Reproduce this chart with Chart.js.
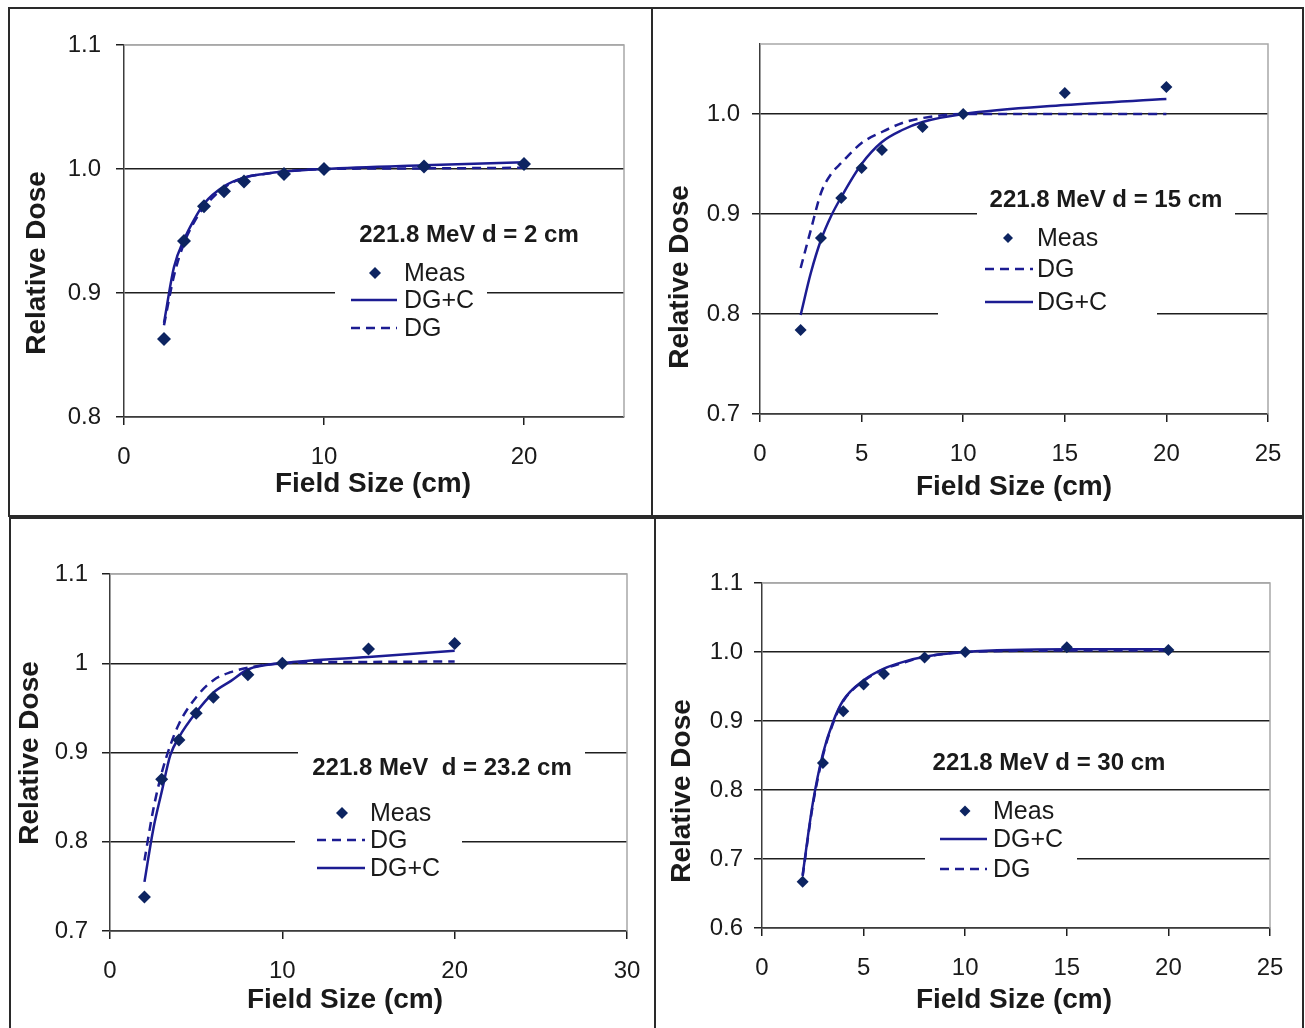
<!DOCTYPE html>
<html>
<head>
<meta charset="utf-8">
<script src="https://cdn.jsdelivr.net/npm/chart.js@4.4.1/dist/chart.umd.min.js"></script>
<style>
  body { margin: 0; background: #fff; overflow: hidden; }
  canvas { position: absolute; }
  .frame { position: absolute; border: 2px solid #2a2a2a; box-sizing: border-box; }
</style>
</head>
<body>
<script>
// field sizes (cm): measured points and calculated curve samples
const measSizes = [2, 3, 4, 5, 6, 8, 10, 15, 20];
const calcSizes = [2, 2.5, 3, 3.5, 4, 5, 6, 7, 8, 10, 15, 20];

// relative dose, 221.8 MeV, d = 2 cm
const meas2 = [0.863, 0.942, 0.970, 0.982, 0.990, 0.996, 1.000, 1.002, 1.004];
const dgc2  = [0.876, 0.921, 0.943, 0.959, 0.972, 0.986, 0.993, 0.996, 0.998, 1.000, 1.003, 1.0055];
const dg2   = [0.874, 0.914, 0.940, 0.957, 0.969, 0.985, 0.993, 0.996, 0.998, 1.000, 1.0005, 1.001];

// d = 15 cm
const meas15 = [0.784, 0.876, 0.916, 0.946, 0.964, 0.987, 1.000, 1.021, 1.027];
const dgc15  = [0.799, 0.841, 0.874, 0.898, 0.917, 0.950, 0.972, 0.984, 0.992, 1.000, 1.009, 1.015];
const dg15   = [0.846, 0.884, 0.921, 0.940, 0.951, 0.971, 0.982, 0.991, 0.996, 1.000, 1.000, 1.000];

// d = 23.2 cm
const meas232 = [0.738, 0.870, 0.914, 0.944, 0.962, 0.987, 1.000, 1.016, 1.022];
const dgc232  = [0.755, 0.813, 0.856, 0.897, 0.917, 0.945, 0.967, 0.980, 0.993, 1.000, 1.007, 1.014];
const dg232   = [0.779, 0.835, 0.877, 0.908, 0.932, 0.962, 0.981, 0.990, 0.995, 1.000, 1.0015, 1.002];

// d = 30 cm
const meas30 = [0.667, 0.839, 0.914, 0.953, 0.968, 0.992, 1.000, 1.007, 1.003];
const dgc30  = [0.677, 0.781, 0.853, 0.899, 0.930, 0.959, 0.976, 0.986, 0.993, 1.000, 1.004, 1.004];
const dg30   = [0.675, 0.778, 0.850, 0.897, 0.929, 0.958, 0.975, 0.985, 0.993, 1.000, 1.002, 1.002];

const captions = ['221.8 MeV d = 2 cm', '221.8 MeV d = 15 cm', '221.8 MeV  d = 23.2 cm', '221.8 MeV d = 30 cm'];
const seriesNames = { meas: 'Meas', dgc: 'DG+C', dg: 'DG' };
const xTitle = 'Field Size (cm)';
const yTitle = 'Relative Dose';

const FONT = '"Liberation Sans", Arial, sans-serif';
const INK = '#1a1a1a';
const LINE = '#1c1c92';
const DOT = '#0d2461';
const GRID = '#1e1e1e';
const AXIS = '#3c3c3c';
const EDGE = '#a8a8a8';

const fixed1 = v => v.toFixed(1);
const general = v => String(Math.round(v * 10) / 10);

// page layout of each panel: outer frame, plot area, legend placement
const panels = [
  {
    frame: [9, 8, 652, 516], area: [124, 45, 624, 417],
    xMax: 25, xStep: 10, yMin: 0.8, yMax: 1.1, fmt: fixed1, yPad: 15,
    meas: meas2, dgc: dgc2, dg: dg2, caption: captions[0], markR: 7,
    cap: [469, 235], capBox: [347, 219, 591, 251],
    legBox: [335, 256, 487, 345], order: ['meas', 'dgc', 'dg'], rows: [273, 300, 328],
    sample: [351, 397], markX: 375, textX: 404, legR: 6,
    yT: [37, 263], xT: [373, 484]
  },
  {
    frame: [652, 8, 1303, 516], area: [760, 44, 1268, 414],
    xMax: 25, xStep: 5, yMin: 0.7, yMax: 1.07, fmt: fixed1, yPad: 12,
    meas: meas15, dgc: dgc15, dg: dg15, caption: captions[1], markR: 6,
    cap: [1106, 200], capBox: [977, 182, 1235, 218],
    legBox: [938, 222, 1157, 320], order: ['meas', 'dg', 'dgc'], rows: [238, 269, 302],
    sample: [985, 1033], markX: 1008, textX: 1037, legR: 5,
    yT: [680, 277], xT: [1014, 487]
  },
  {
    frame: [10, 518, 655, 1034], area: [110, 574, 627, 931],
    xMax: 30, xStep: 10, yMin: 0.7, yMax: 1.1, fmt: general, yPad: 14,
    meas: meas232, dgc: dgc232, dg: dg232, caption: captions[2], markR: 6.5,
    cap: [442, 768], capBox: [298, 750, 585, 786],
    legBox: [295, 796, 462, 885], order: ['meas', 'dg', 'dgc'], rows: [813, 840, 868],
    sample: [317, 365], markX: 342, textX: 370, legR: 6,
    yT: [30, 753], xT: [345, 1000]
  },
  {
    frame: [655, 518, 1303, 1034], area: [762, 583, 1270, 928],
    xMax: 25, xStep: 5, yMin: 0.6, yMax: 1.1, fmt: fixed1, yPad: 11,
    meas: meas30, dgc: dgc30, dg: dg30, caption: captions[3], markR: 6,
    cap: [1049, 763], capBox: [919, 745, 1179, 781],
    legBox: [925, 795, 1077, 886], order: ['meas', 'dgc', 'dg'], rows: [811, 839, 869],
    sample: [940, 987], markX: 965, textX: 993, legR: 5.5,
    yT: [682, 791], xT: [1014, 1000]
  }
];

const toXY = (xs, ys) => xs.map((x, i) => ({ x: x, y: ys[i] }));

function diamond(ctx, x, y, r) {
  ctx.beginPath();
  ctx.moveTo(x, y - r);
  ctx.lineTo(x + r, y);
  ctx.lineTo(x, y + r);
  ctx.lineTo(x - r, y);
  ctx.closePath();
  ctx.fill();
}

// plot frame, caption and legend boxes painted over the grid, then axis titles
const panelText = {
  id: 'panelText',
  beforeDatasetsDraw(chart, args, p) {
    const ctx = chart.ctx;
    const ox = p.frame[0], oy = p.frame[1];
    const a = chart.chartArea;
    ctx.save();
    ctx.strokeStyle = EDGE;
    ctx.lineWidth = 1.5;
    ctx.beginPath();
    ctx.moveTo(a.left, a.top);
    ctx.lineTo(a.right, a.top);
    ctx.lineTo(a.right, a.bottom);
    ctx.stroke();

    ctx.fillStyle = '#fff';
    [p.capBox, p.legBox].forEach(b => ctx.fillRect(b[0] - ox, b[1] - oy, b[2] - b[0], b[3] - b[1]));

    ctx.fillStyle = INK;
    ctx.textBaseline = 'middle';
    ctx.textAlign = 'center';
    ctx.font = 'bold 24px ' + FONT;
    ctx.fillText(p.caption, p.cap[0] - ox, p.cap[1] - oy);

    ctx.textAlign = 'left';
    ctx.font = '25px ' + FONT;
    p.order.forEach((key, i) => {
      const ds = chart.data.datasets.find(d => d.key === key);
      const y = p.rows[i] - oy;
      if (key === 'meas') {
        ctx.fillStyle = ds.backgroundColor;
        diamond(ctx, p.markX - ox, y, p.legR);
      } else {
        ctx.strokeStyle = ds.borderColor;
        ctx.lineWidth = ds.borderWidth;
        ctx.setLineDash(ds.borderDash || []);
        ctx.beginPath();
        ctx.moveTo(p.sample[0] - ox, y);
        ctx.lineTo(p.sample[1] - ox, y);
        ctx.stroke();
        ctx.setLineDash([]);
      }
      ctx.fillStyle = INK;
      ctx.fillText(ds.label, p.textX - ox, y + 1);
    });
    ctx.restore();
  },
  afterDraw(chart, args, p) {
    const ctx = chart.ctx;
    const ox = p.frame[0], oy = p.frame[1];
    ctx.save();
    ctx.fillStyle = INK;
    ctx.font = 'bold 28px ' + FONT;
    ctx.textAlign = 'center';
    ctx.textBaseline = 'middle';
    ctx.fillText(xTitle, p.xT[0] - ox, p.xT[1] - oy);
    ctx.translate(p.yT[0] - ox, p.yT[1] - oy);
    ctx.rotate(-Math.PI / 2);
    ctx.fillText(yTitle, 0, 0);
    ctx.restore();
  }
};

panels.forEach(p => {
  const [fl, ft, fr, fb] = p.frame;
  const [al, at, ar, ab] = p.area;
  const w = fr - fl, h = fb - ft;

  const canvas = document.createElement('canvas');
  canvas.width = w;
  canvas.height = h;
  canvas.style.left = fl + 'px';
  canvas.style.top = ft + 'px';
  canvas.style.width = w + 'px';
  canvas.style.height = h + 'px';
  document.body.appendChild(canvas);

  const frame = document.createElement('div');
  frame.className = 'frame';
  frame.style.left = (fl - 1) + 'px';
  frame.style.top = (ft - 1) + 'px';
  frame.style.width = (w + 2) + 'px';
  frame.style.height = (h + 2) + 'px';
  document.body.appendChild(frame);

  const tickFont = { family: FONT, size: 24 };

  new Chart(canvas, {
    type: 'line',
    data: {
      datasets: [
        {
          key: 'meas', label: seriesNames.meas, data: toXY(measSizes, p.meas),
          showLine: false, pointStyle: 'rectRot', pointRadius: p.markR,
          backgroundColor: DOT, borderColor: DOT, pointBorderWidth: 0
        },
        {
          key: 'dgc', label: seriesNames.dgc, data: toXY(calcSizes, p.dgc),
          borderColor: LINE, borderWidth: 2.5, pointRadius: 0,
          cubicInterpolationMode: 'monotone', fill: false
        },
        {
          key: 'dg', label: seriesNames.dg, data: toXY(calcSizes, p.dg),
          borderColor: LINE, borderWidth: 2.5, borderDash: [9, 6], pointRadius: 0,
          cubicInterpolationMode: 'monotone', fill: false
        }
      ]
    },
    options: {
      responsive: false,
      animation: false,
      devicePixelRatio: 1,
      layout: { padding: { top: at - ft, right: fr - ar, left: 0, bottom: 0 } },
      plugins: {
        legend: { display: false },
        tooltip: { enabled: false },
        panelText: p
      },
      scales: {
        x: {
          type: 'linear', min: 0, max: p.xMax,
          afterFit: s => { s.height = fb - ab; s.paddingLeft = 0; s.paddingRight = 0; },
          ticks: { stepSize: p.xStep, includeBounds: false, padding: 18, color: INK, font: tickFont, maxRotation: 0 },
          grid: { drawOnChartArea: false, tickLength: 8, tickColor: GRID, lineWidth: 1.5 },
          border: { color: AXIS, width: 1.5 }
        },
        y: {
          type: 'linear', min: p.yMin, max: p.yMax,
          afterFit: s => { s.width = al - fl; s.paddingTop = 0; s.paddingBottom = 0; },
          ticks: { stepSize: 0.1, includeBounds: false, padding: p.yPad, color: INK, font: tickFont,
            callback: v => p.fmt(v) },
          grid: {
            color: c => (c.tick && Math.abs(c.tick.value - p.yMax) < 1e-6 ? EDGE : GRID),
            tickColor: GRID, tickLength: 8, lineWidth: 1.5
          },
          border: { color: AXIS, width: 1.5 }
        }
      }
    },
    plugins: [panelText]
  });
});
</script>
</body>
</html>
